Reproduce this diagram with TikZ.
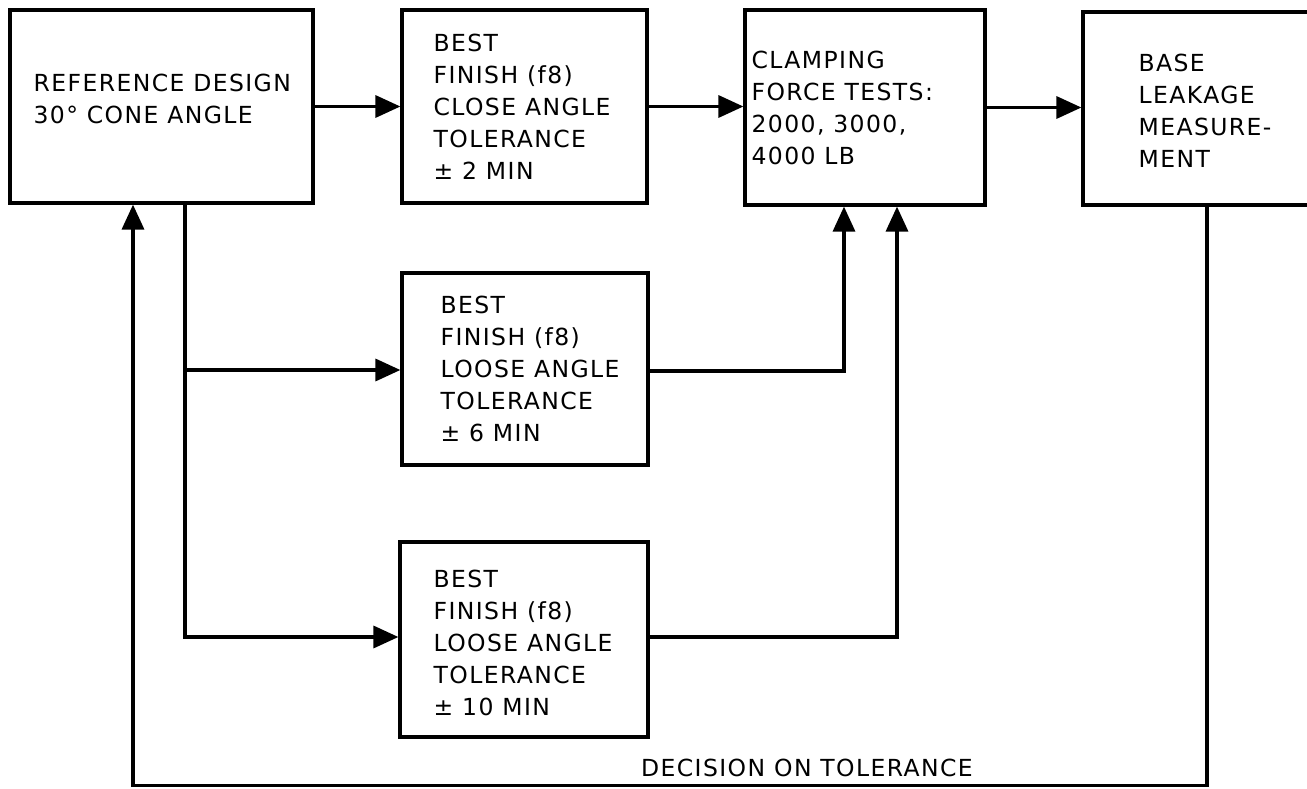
\documentclass[tikz,border=0pt]{standalone}
\usepackage{fontspec}
\setmainfont{DejaVu Sans}[LetterSpace=6]
\usetikzlibrary{arrows.meta}
\begin{document}
\begin{tikzpicture}[x=1pt,y=-1pt,
  box/.style={draw, line width=3.2pt, inner sep=0pt},
  txt/.style={font=\fontsize{23.5}{32}\selectfont, align=left, anchor=west, inner sep=0pt},
  conn/.style={line width=3.4pt, -{Triangle[length=25pt,width=22pt]}}]
\useasboundingbox (0,0) rectangle (1307,789);
\fill[white] (0,0) rectangle (1307,789);
\clip (0,0) rectangle (1307,789);
% boxes
\node[box, minimum width=303pt, minimum height=193pt] (A) at (161.5,106.5) {};
\node[box, minimum width=245pt, minimum height=193pt] (B) at (524.5,106.5) {};
\node[box, minimum width=240pt, minimum height=195pt] (C) at (865,107.5) {};
\node[box, minimum width=257pt, minimum height=193pt] (D) at (1211.5,108.5) {};
\node[box, minimum width=246pt, minimum height=192pt] (E) at (525,369) {};
\node[box, minimum width=248pt, minimum height=195pt] (F) at (524,639.5) {};
% texts
\node[txt, yshift=8pt] (tA) at ([xshift=25pt]A.west) {REFERENCE DESIGN\\30° CONE ANGLE};
\node[txt] (tB) at ([xshift=33pt]B.west) {BEST\\FINISH (f8)\\CLOSE ANGLE\\TOLERANCE\\± 2 MIN};
\node[txt] (tC) at ([xshift=8pt]C.west) {CLAMPING\\FORCE TESTS:\\2000, 3000,\\4000 LB};
\node[txt, yshift=-2pt] (tD) at ([xshift=57pt]D.west) {BASE\\LEAKAGE\\MEASURE-\\MENT};
\node[txt] (tE) at ([xshift=40pt]E.west) {BEST\\FINISH (f8)\\LOOSE ANGLE\\TOLERANCE\\± 6 MIN};
\node[txt, yshift=-3pt] (tF) at ([xshift=35pt]F.west) {BEST\\FINISH (f8)\\LOOSE ANGLE\\TOLERANCE\\± 10 MIN};
\node[txt, anchor=center] (lab) at (807,768) {DECISION ON TOLERANCE};
% main flow
\draw[conn] (A.east) -- (A.east -| B.west);
\draw[conn] (B.east) -- (B.east -| C.west);
\draw[conn] (C.east) -- (C.east -| D.west);
% branches
\coordinate (j1) at (185,370);
\coordinate (j2) at (185,637);
\draw[conn] (A.south -| j2) -- (j2) -- (j2 -| F.west);
\draw[conn] (j1) -- (j1 -| E.west);
\coordinate (k1) at (844,371);
\coordinate (k2) at (897,637);
\draw[conn] (k1 -| E.east) -- (k1) -- (k1 |- C.south);
\draw[conn] (k2 -| F.east) -- (k2) -- (k2 |- C.south);
% feedback
\coordinate (b1) at (1207,785.5);
\coordinate (b2) at (133,785.5);
\draw[conn] (b1 |- D.south) -- (b1) -- (b2) -- (b2 |- A.south);
\end{tikzpicture}
\end{document}
